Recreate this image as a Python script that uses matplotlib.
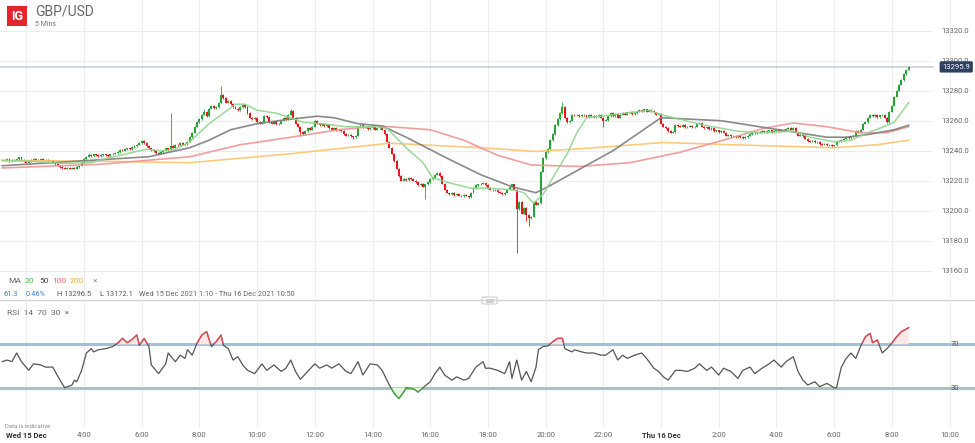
import numpy as np
import matplotlib
matplotlib.use("Agg")
import matplotlib.pyplot as plt
from matplotlib.patches import Rectangle, FancyBboxPatch
from matplotlib.lines import Line2D

plt.rcParams['font.family'] = ['Roboto', 'DejaVu Sans']

# GBP/USD 5 min closes (x10000), Wed 15 Dec 1:10 -> Thu 16 Dec 8:35
closes = [
    13234, 13233.5, 13234.5, 13233, 13234, 13233.5, 13234.5, 13235.5, 13234, 13233, 13232, 13233,
    13234, 13234.5, 13233.5, 13234, 13234.5, 13233.5, 13234, 13233, 13233.5, 13232, 13231, 13230,
    13229, 13228.5, 13228, 13228.5, 13228, 13228.5, 13228, 13229, 13230, 13232, 13234.5, 13236,
    13237, 13236.5, 13237.5, 13237, 13236.5, 13237, 13237.5, 13237, 13236.5, 13237.5, 13238, 13238.5,
    13239, 13240.5, 13240, 13241, 13241.5, 13241, 13242.5, 13243, 13244, 13245, 13246.5, 13245,
    13243, 13241.5, 13240.5, 13239.5, 13238.5, 13238, 13239, 13240, 13241.5, 13240.5, 13243, 13242,
    13244, 13243.5, 13245, 13244, 13244.5, 13246, 13249, 13252, 13256, 13259, 13261, 13264,
    13266, 13263, 13268, 13270, 13268.5, 13269, 13272, 13277, 13275, 13272, 13273, 13271,
    13269, 13268, 13267, 13269, 13270.5, 13269, 13265, 13262, 13261, 13262, 13259, 13258,
    13259, 13263, 13262.5, 13259, 13258, 13259.5, 13257.5, 13258, 13260, 13262, 13261, 13264,
    13266.5, 13262, 13258, 13256, 13252.5, 13251, 13253, 13255, 13254, 13256, 13260, 13258,
    13257, 13258, 13256.5, 13257.5, 13255, 13254, 13255, 13253.5, 13254, 13253, 13251, 13250,
    13250.5, 13249.5, 13249, 13250, 13256, 13257, 13255.5, 13256, 13254.5, 13255, 13256, 13254,
    13255, 13255.5, 13254, 13251, 13246, 13242, 13238, 13233, 13228, 13223, 13220, 13221,
    13220.5, 13222, 13221, 13220, 13219, 13217, 13218, 13216, 13217.5, 13219, 13221, 13222,
    13224, 13225, 13223, 13218, 13214, 13212, 13211, 13212, 13210.5, 13211, 13210, 13209.5,
    13210.5, 13210, 13209, 13212, 13215, 13217, 13217.5, 13218, 13218.5, 13217, 13215, 13214,
    13213.5, 13214, 13212.5, 13212, 13211, 13212, 13214, 13216, 13217.5, 13214, 13201, 13206,
    13198, 13202, 13197, 13195, 13196, 13206, 13204, 13205, 13226, 13235, 13239, 13241,
    13247, 13251, 13257, 13261, 13265, 13269, 13262, 13259, 13260, 13264, 13263.5, 13264,
    13263, 13264, 13263.5, 13262.5, 13264, 13263, 13262.5, 13263, 13264, 13262, 13260, 13260.5,
    13263, 13265, 13263, 13264.5, 13262, 13264, 13265, 13264, 13265.5, 13266, 13264.5, 13265,
    13266, 13267, 13266.5, 13267.5, 13266, 13267, 13266.5, 13265.5, 13264, 13264.5, 13258, 13256,
    13255, 13253, 13252, 13252.5, 13257, 13256.5, 13256, 13257, 13255.5, 13256, 13256.5, 13255.5,
    13256, 13258, 13258.5, 13256, 13255, 13255.5, 13254.5, 13255, 13253, 13253.5, 13252.5, 13253,
    13252, 13250, 13250.5, 13249.5, 13250, 13249, 13249.5, 13249, 13248.5, 13249, 13250, 13251,
    13252, 13251.5, 13252.5, 13252, 13253, 13252.5, 13253, 13253.5, 13252.5, 13253, 13254, 13253,
    13254, 13253.5, 13254.5, 13255, 13254, 13255, 13252, 13250, 13250.5, 13249.5, 13248, 13246.5,
    13246, 13246.5, 13245.5, 13246, 13244.5, 13244, 13244.5, 13243.5, 13244, 13243, 13243.5, 13246,
    13246.5, 13247, 13248, 13249, 13248.5, 13249.5, 13250, 13253, 13252.5, 13254, 13258, 13259,
    13262, 13264, 13263, 13264, 13262.5, 13263.5, 13264, 13262, 13259, 13266, 13270, 13276,
    13280, 13284, 13287, 13291, 13294, 13295.9,
]
first_open = 13233.5

# notable wicks (bar index -> price)
wick_high = {36: 13238.5, 70: 13265, 84: 13267.5, 91: 13283, 120: 13268, 233: 13272.5, 377: 13296.5}
wick_low = {124: 13250, 146: 13247.5, 176: 13208, 214: 13172.1, 218: 13193, 219: 13190, 250: 13256}

# moving averages, read at knots (bar index, value)
ma20_bar = [0, 12, 24, 37, 41, 60, 66, 72, 78, 86, 97, 101, 106, 114, 120, 125, 133, 143, 156, 160,
            168, 175, 179, 185, 195, 202, 212, 217, 221, 225, 229, 235, 239, 243, 249, 269, 274, 292,
            306, 315, 329, 336, 346, 353, 360, 365, 371, 377]
ma20_val = [13233.5, 13233, 13231.5, 13232, 13234, 13241, 13240, 13241, 13246, 13258, 13271, 13271,
            13267, 13265, 13262, 13259, 13258, 13256, 13256, 13255, 13242, 13232, 13222, 13219,
            13215, 13215, 13214, 13212, 13205, 13211, 13222, 13238, 13252, 13262, 13263, 13267,
            13264, 13257, 13253, 13252, 13253, 13249, 13246, 13247, 13252, 13255, 13259, 13272]
ma50_bar = [0, 41, 61, 78, 86, 95, 106, 117, 131, 138, 148, 158, 168, 185, 199, 212, 222, 227, 254,
            274, 299, 315, 329, 343, 351, 361, 371, 377]
ma50_val = [13230, 13234, 13236, 13242, 13247, 13254, 13258, 13260.5, 13263, 13262, 13258, 13256.5,
            13249, 13235, 13224, 13216, 13212, 13216, 13240, 13262, 13260, 13256, 13252.5, 13249,
            13249, 13251, 13254, 13257]
ma100_bar = [0, 41, 78, 99, 120, 140, 157, 178, 192, 206, 220, 240, 261, 282, 303, 317, 329, 343,
             357, 368, 377]
ma100_val = [13228.5, 13231, 13236, 13244, 13249, 13254, 13256.5, 13254, 13247, 13237, 13230.5,
             13229.5, 13232, 13239, 13248.5, 13255, 13258.5, 13256, 13252, 13252, 13256]
ma200_bar = [0, 41, 78, 120, 161, 199, 222, 247, 275, 303, 346, 364, 377]
ma200_val = [13233.5, 13233, 13232, 13238, 13245, 13242, 13239.5, 13242, 13245.5, 13244, 13242,
             13244, 13247]

# RSI 14
rsi_bar = [0, 2, 4, 6, 8, 11, 13, 16, 18, 21, 24, 26, 29, 30, 31, 33, 35, 37, 38, 40,
           43, 46, 48, 50, 52, 54, 56, 57, 59, 61, 62, 65, 68, 69, 72, 74, 76, 77, 79, 81,
           83, 85, 87, 89, 91, 92, 94, 96, 98, 100, 102, 105, 108, 110, 113, 116, 118, 120, 122, 124,
           127, 130, 132, 135, 137, 140, 143, 145, 148, 150, 153, 156, 158, 161, 163, 165, 167, 168, 171, 173,
           175, 178, 180, 182, 184, 187, 189, 192, 194, 197, 200, 201, 203, 206, 209, 211, 212, 214, 216, 218,
           220, 222, 223, 225, 227, 229, 231, 233, 234, 237, 238, 241, 243, 246, 249, 251, 254, 256, 258, 260,
           263, 266, 268, 271, 273, 275, 277, 280, 282, 285, 288, 290, 293, 295, 298, 300, 303, 306, 308, 311,
           313, 316, 319, 321, 324, 326, 329, 331, 333, 335, 338, 340, 343, 346, 347, 349, 351, 353, 355, 357,
           359, 361, 362, 364, 366, 368, 370, 372, 374, 376, 377]
rsi_val = [54, 55.5, 54, 62, 54, 46, 52, 51, 49, 49, 37, 30, 32.5, 37, 35.5, 46, 62, 66, 63, 65,
           66, 68, 71, 75.5, 71.5, 74.6, 78.6, 69, 75.5, 68, 51, 43, 52, 62, 54, 60, 57, 65, 60, 71,
           78.6, 81.7, 68, 72.5, 78.6, 69, 66, 55.5, 58.6, 51, 46, 43, 52, 46, 51, 45, 48, 55.5, 45, 37.7,
           45, 52, 48, 51, 48, 52, 45, 43, 54, 41.7, 52, 51, 46, 32.5, 24.8, 20, 26, 30, 29, 26,
           30, 35.5, 43, 49, 41.7, 37, 40, 37, 38.6, 49, 54, 48, 48, 46, 43, 54, 38.6, 55.5, 37, 45,
           35.5, 49, 65, 68, 68.5, 72.5, 75.5, 75.5, 66, 63, 65, 63, 62, 62, 60, 60, 65, 55.5, 60, 57,
           60, 62, 57, 48, 45, 40, 37, 46, 46, 45, 48, 52, 46, 49, 41.7, 48, 45, 38.6, 46, 49,
           43, 48, 52, 55.5, 49, 54, 58.6, 45, 37, 32.5, 35.5, 31, 34, 30, 30, 49, 57, 62, 57, 68,
           77, 80, 71.5, 74, 62, 66, 71, 77, 81.7, 84, 85.4]

# time axis: hours since Wed 00:00, bars start at 1:10
tick_hours = [2, 4, 6, 8, 10, 12, 14, 16, 18, 20, 22, 24, 26, 28, 30, 32, 34]
tick_labels = ['Wed 15 Dec', '4:00', '6:00', '8:00', '10:00', '12:00', '14:00', '16:00', '18:00',
               '20:00', '22:00', 'Thu 16 Dec', '2:00', '4:00', '6:00', '8:00', '10:00']
price_levels = [13160, 13180, 13200, 13220, 13240, 13260, 13280, 13300, 13320]
last_price = 13295.9

W, H = 975, 443
fig = plt.figure(figsize=(W / 100, H / 100), dpi=100)
fig.patch.set_facecolor('white')

def fx(x):
    return x / W

def fy(y):
    return 1 - y / H

xmin, xmax = -0.94, 404.6
ax = fig.add_axes([0, fy(298), 1, 298 / H])
rax = fig.add_axes([0, fy(428), 1, 127 / H])
for a in (ax, rax):
    a.set_xlim(xmin, xmax)
    a.set_facecolor('none')
    for s in a.spines.values():
        s.set_visible(False)
    a.tick_params(length=0)
ax.set_ylim(13141.8, 13340.5)
rax.set_ylim(-7.1, 109.9)
ax.set_xticks([])
ax.set_yticks([])
rax.set_yticks([])

tick_bars = [(h - (1 + 10 / 60)) * 12 for h in tick_hours]
grid_c = '#ededed'
for b in tick_bars:
    ax.axvline(b, color=grid_c, lw=0.8, zorder=0)
    rax.axvline(b, color=grid_c, lw=0.8, zorder=0)
label_x = 396.3
for p in price_levels:
    ax.plot([xmin, 386.5], [p, p], color=grid_c, lw=0.8, zorder=0)
    ax.text(label_x, p, f'{p:.1f}', ha='center', va='center', fontsize=5.5, color='#666666')

# candles
closes = np.array(closes, dtype=float)
opens = np.concatenate([[first_open], closes[:-1]])
bars = np.arange(len(closes))
highs = np.maximum(opens, closes) + 0.5
lows = np.minimum(opens, closes) - 0.5
for k, v in wick_high.items():
    highs[k] = v
for k, v in wick_low.items():
    lows[k] = v
up_c, dn_c = '#23a633', '#e8151b'
cols = [up_c if c >= o else dn_c for o, c in zip(opens, closes)]
ax.vlines(bars, lows, highs, colors=cols, lw=0.6, zorder=2)
body = np.maximum(np.abs(closes - opens), 0.5)
ax.bar(bars, body, bottom=np.minimum(opens, closes), width=0.8, color=cols, lw=0, zorder=3)

# moving averages
ax.plot(ma200_bar, ma200_val, color='#fcc56e', lw=1.2, alpha=0.9, zorder=4)
ax.plot(ma100_bar, ma100_val, color='#f09393', lw=1.2, alpha=0.9, zorder=4)
ax.plot(ma50_bar, ma50_val, color='#7d7d7d', lw=1.2, alpha=0.9, zorder=4)
ax.plot(ma20_bar, ma20_val, color='#8fd48f', lw=1.1, alpha=0.9, zorder=5)

# current price line and label
ax.plot([xmin, 387], [last_price, last_price], color='#c5ccd4', lw=1.1, zorder=1)
ax.text(label_x + 0.5, last_price, f'{last_price:.1f}', ha='center', va='center', fontsize=5.5,
        color='white', zorder=6,
        bbox=dict(boxstyle='round,pad=0.35,rounding_size=0.2', fc='#2d4160', ec='none'))

# RSI
rsi_bar = np.array(rsi_bar, dtype=float)
rsi_val = np.array(rsi_val, dtype=float)
for lvl in (70, 30):
    rax.axhline(lvl, color='#a9bdd3', lw=2.2, zorder=1)
    rax.text(label_x, lvl, str(lvl), ha='center', va='center', fontsize=5.5, color='#555555')
rax.fill_between(rsi_bar, 70, rsi_val, where=rsi_val > 70, interpolate=True, color='#fde6e6',
                 lw=0, zorder=1)
rax.fill_between(rsi_bar, 30, rsi_val, where=rsi_val < 30, interpolate=True, color='#e3f5e3',
                 lw=0, zorder=1)
rax.plot(rsi_bar, rsi_val, color='#555555', lw=0.9, zorder=3)
hi_line, = rax.plot(rsi_bar, rsi_val, color='#ee4a52', lw=0.9, zorder=4)
hi_line.set_clip_path(Rectangle((xmin, 70), xmax - xmin, 60, transform=rax.transData))
lo_line, = rax.plot(rsi_bar, rsi_val, color='#45b545', lw=0.9, zorder=4)
lo_line.set_clip_path(Rectangle((xmin, -20), xmax - xmin, 50, transform=rax.transData))

rax.set_xticks(tick_bars)
rax.set_xticklabels(tick_labels, fontsize=5.5, color='#666666')
rax.tick_params(axis='x', pad=3)
for t in rax.get_xticklabels():
    if 'Dec' in t.get_text():
        t.set_color('#333333')
        t.set_fontweight('bold')

# panel separator
fig.add_artist(Line2D([0, 1], [fy(300), fy(300)], color='#d5d5d5', lw=1))
fig.add_artist(FancyBboxPatch((fx(482), fy(304)), 15 / W, 7 / H, boxstyle='round,pad=0,rounding_size=0.002',
                              fc='white', ec='#c8c8c8', lw=0.7))
for yy in (299, 300.5, 302):
    fig.add_artist(Line2D([fx(486), fx(493)], [fy(yy), fy(yy)], color='#aaaaaa', lw=0.4))

# header
fig.add_artist(Rectangle((fx(7), fy(26)), 20 / W, 20 / H, fc='#e3262b', ec='none'))
fig.text(fx(17), fy(16), 'IG', ha='center', va='center', fontsize=9, color='white', fontweight='bold')
fig.text(fx(35), fy(12), 'GBP/USD', ha='left', va='center', fontsize=10, color='#666666')
fig.text(fx(35), fy(24), '5 Mins', ha='left', va='center', fontsize=5, color='#777777')

# MA legend
legend_items = [('MA', 8, '#666666'), ('20', 25, '#55b955'), ('50', 39, '#444444'),
                ('100', 52, '#f06a6a'), ('200', 70, '#f5b14a'), ('×', 93, '#888888')]
for txt, x, c in legend_items:
    fig.text(fx(x), fy(281), txt, ha='left', va='center', fontsize=6, color=c)
info_items = [('61.3', 4, '#3c7cc8'), ('0.46%', 26, '#3c7cc8'), ('H 13296.5', 57, '#555555'),
              ('L 13172.1', 100, '#555555'),
              ('Wed 15 Dec 2021 1:10 - Thu 16 Dec 2021 10:50', 139, '#666666')]
for txt, x, c in info_items:
    fig.text(fx(x), fy(295), txt, ha='left', va='center', fontsize=5.3, color=c)

fig.text(fx(7), fy(313), 'RSI  14  70  30  ×', ha='left', va='center', fontsize=6, color='#666666')
fig.text(fx(5), fy(426), 'Data is indicative', ha='left', va='center', fontsize=4.2, color='#888888')

fig.savefig('out.png', dpi=100, facecolor='white')
